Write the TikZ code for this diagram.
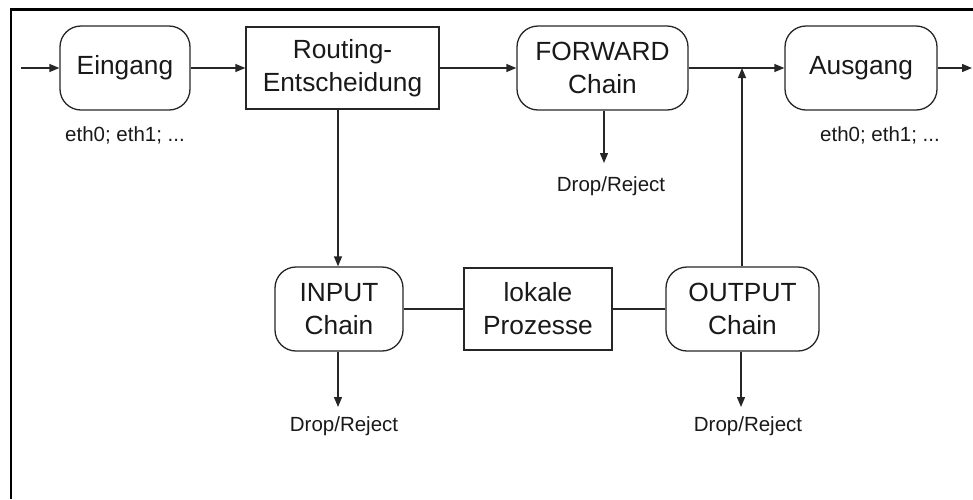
\documentclass[tikz,border=0pt]{standalone}
\usepackage{fontspec}
\setmainfont{Liberation Sans}
\usetikzlibrary{arrows.meta}
\begin{document}
\begin{tikzpicture}[x=1pt,y=-1pt,
  every node/.style={inner sep=0pt, align=center, text=black!90},
  bigtxt/.style={font=\fontsize{26.3}{33}\selectfont},
  smalltxt/.style={font=\fontsize{20.5}{24}\selectfont},
  rbox/.style={draw=black!85, line width=1.3pt, rounded corners=21pt, bigtxt},
  sbox/.style={draw=black!85, line width=1.3pt, bigtxt},
  conn/.style={draw=black!85, line width=1.3pt},
  arr/.style={conn, -{Triangle[length=10pt,width=8pt]}}]
\useasboundingbox (0,0) rectangle (973,499);
\draw[line width=2.2pt, black] (11,499) -- (11,9.5) -- (973,9.5);

\node[rbox, minimum width=130pt, minimum height=84pt] (ein) at (125,68) {Eingang};
\node[sbox, minimum width=193pt, minimum height=82pt] (rout) at (342.5,68) {Routing-\\Entscheidung};
\node[rbox, minimum width=171pt, minimum height=84pt] (fwd) at (602.5,68) {FORWARD\\Chain};
\node[rbox, minimum width=152pt, minimum height=84pt] (aus) at (861,68) {Ausgang};
\node[rbox, minimum width=128pt, minimum height=84pt] (inp) at (339,309) {INPUT\\Chain};
\node[sbox, minimum width=148pt, minimum height=82pt] (lok) at (538,309) {lokale\\Prozesse};
\node[rbox, minimum width=153pt, minimum height=84pt] (outp) at (742.5,309) {OUTPUT\\Chain};

\node[smalltxt] (ethin) at (125,135) {eth0; eth1; ...};
\node[smalltxt] (ethout) at (880,135) {eth0; eth1; ...};
\node[smalltxt] (dropf) at (611,186) {Drop/Reject};
\node[smalltxt] (dropi) at (344,426) {Drop/Reject};
\node[smalltxt] (dropo) at (748,426) {Drop/Reject};

\coordinate (start) at (21,68);
\coordinate (finish) at (972,68);
\coordinate (tipf) at (604,163);
\coordinate (tipi) at (338,407);
\coordinate (tipo) at (741,407);
\coordinate (join) at (742,68);

\draw[arr] (start) -- (ein.west);
\draw[arr] (ein) -- (rout);
\draw[arr] (rout) -- (fwd);
\draw[arr] (fwd) -- (aus);
\draw[arr] (aus.east) -- (finish);
\draw[arr] (tipi |- rout.south) -- (tipi |- inp.north);
\draw[arr] (tipf |- fwd.south) -- (tipf);
\draw[arr] (tipi |- inp.south) -- (tipi);
\draw[arr] (tipo |- outp.south) -- (tipo);
\draw[arr] (join |- outp.north) -- (join);
\draw[conn] (inp.east) -- (lok.west);
\draw[conn] (lok.east) -- (outp.west);
\end{tikzpicture}
\end{document}
